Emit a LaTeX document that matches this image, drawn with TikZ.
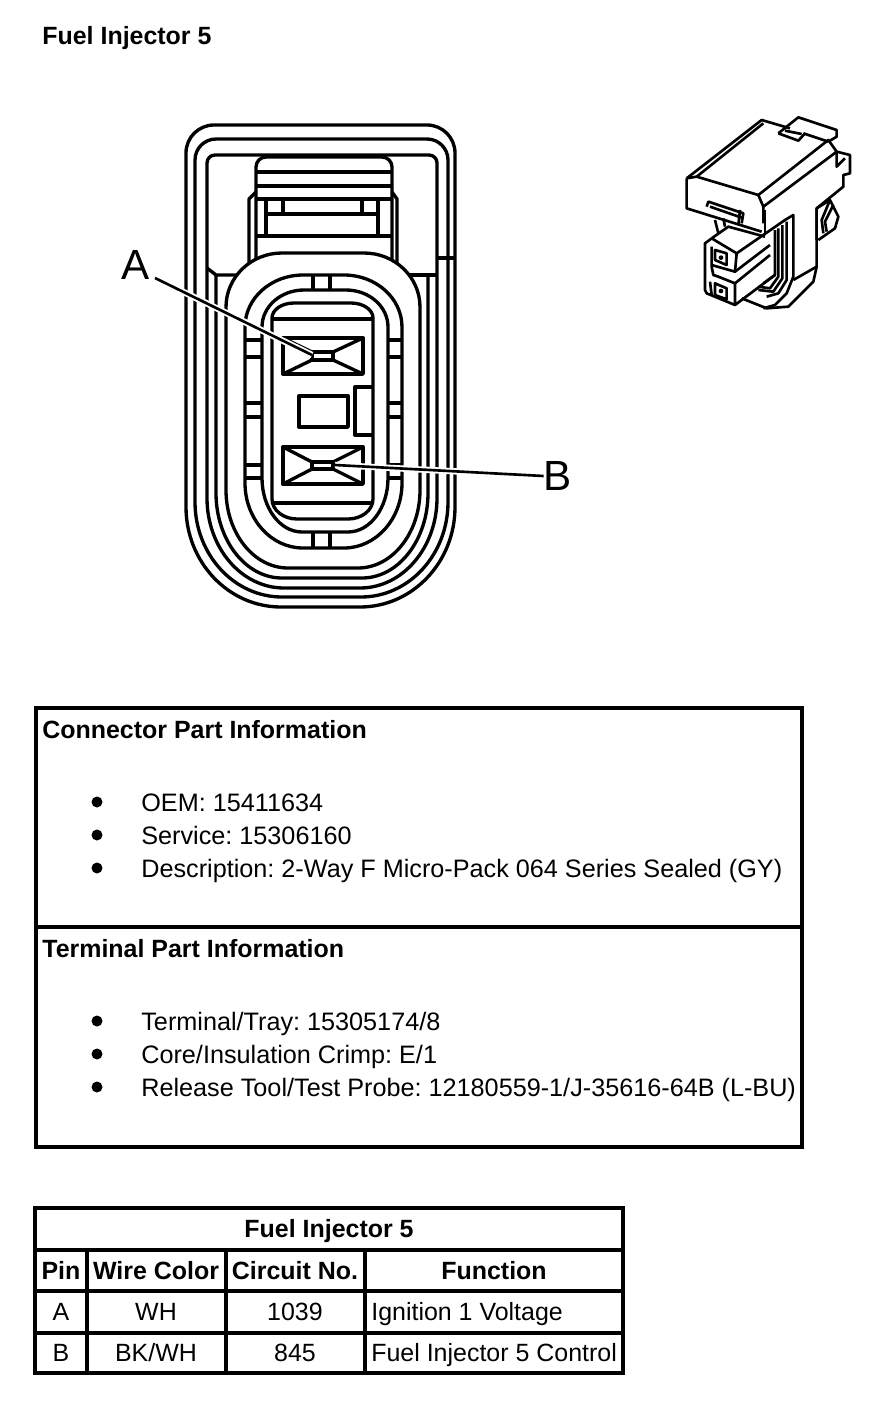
\documentclass[tikz,border=0pt]{standalone}
\usepackage{fontspec}
\setmainfont{Liberation Sans}
\frenchspacing
\newcommand{\contour}[9][]{\draw [#1] (#2,{-#4-#7}) arc (180:90:#6 and #7) -- ({#3-#6},-#4) arc (90:0:#6 and #7) -- (#3,{-#5+#9}) arc (0:-90:#8 and #9) -- ({#2+#8},-#5) arc (-90:-180:#8 and #9) -- cycle;}
\begin{document}
\begin{tikzpicture}[x=0.2mm,y=0.2mm,
	wire/.style={black,line width=1.9pt,line join=round},
	iso/.style={black,line width=1.5pt,line join=round},
	frame/.style={black,line width=1.9pt},
	every node/.style={inner sep=0pt,font=\fontsize{14.2}{17}\selectfont},
	head/.style={font=\fontsize{14.2}{17}\bfseries\selectfont},
	cell/.style={anchor=base},
	leftcell/.style={anchor=base west},
	infotext/.style={anchor=base west,font=\fontsize{14.35}{17}\selectfont},
	pinlabel/.style={font=\fontsize{24}{28}\selectfont}]
	\useasboundingbox (0,0) rectangle (880,-1406);
	\node [head,leftcell] (title) at (42,-44) {Fuel Injector 5};
	\begin{scope}[wire]
		\contour[wire]{186}{455}{125}{607}{28}{28}{95}{100}
		\contour[wire]{195}{448}{139}{597}{21}{21}{87}{95}
		\contour[wire]{207}{437}{155}{588}{8}{8}{77}{90}
		\draw (437,-258) -- (454,-258);
		\draw (249,-273) -- (249,-199) -- (256,-192);
		\draw (397,-273) -- (397,-199) -- (392,-192);
		\draw (256,-270) -- (256,-167) arc (180:90:10) -- (382,-157) arc (90:0:10) -- (392,-270);
		\draw (256,-172) -- (392,-172);
		\draw (256,-186) -- (392,-186);
		\draw (256,-199) -- (392,-199);
		\draw (266,-214) -- (378,-214);
		\draw (256,-236) -- (392,-236);
		\draw [line width=2.4pt] (266,-199) -- (266,-236);
		\draw [line width=2.4pt] (378,-199) -- (378,-236);
		\draw (283,-199) -- (283,-214);
		\draw (362,-199) -- (362,-214);
		\draw (207,-268) -- (216,-275) -- (245,-275);
		\draw (398,-275) -- (437,-275);
		\draw (216,-275) -- (216,-493) arc (180:270:66 and 85) -- (362,-578) arc (-90:0:66 and 85) -- (428,-275);
		\contour[wire,fill=white]{226}{420}{253}{568}{56}{54}{62}{78}
		\contour[wire]{245}{402}{275}{548}{58}{52}{58}{65}
		\contour[wire]{262}{388}{290}{532}{42}{37}{40}{54}
		\contour[wire]{272}{373}{303}{519}{22}{15}{25}{20}
		\draw (272,-319) -- (373,-319);
		\draw (272,-503) -- (373,-503);
		\draw (313,-275) -- (313,-290);
		\draw (330,-275) -- (330,-290);
		\draw (313,-532) -- (313,-548);
		\draw (330,-532) -- (330,-548);
		\foreach \taby in {340,357,403,417,465,478} {
			\draw (245,-\taby) -- (262,-\taby);
			\draw (388,-\taby) -- (402,-\taby);
		}
		\draw (283,-338) rectangle (363,-374);
		\draw (312,-352) rectangle (333,-360);
		\draw (283,-338) -- (312,-352);
		\draw (363,-338) -- (333,-352);
		\draw (283,-374) -- (312,-360);
		\draw (363,-374) -- (333,-360);
		\draw (283,-447) rectangle (363,-484);
		\draw (312,-462) rectangle (333,-469);
		\draw (283,-447) -- (312,-462);
		\draw (363,-447) -- (333,-462);
		\draw (283,-484) -- (312,-469);
		\draw (363,-484) -- (333,-469);
		\draw (299,-396) rectangle (348,-427);
		\draw (373,-387) -- (355,-387) -- (355,-435) -- (373,-435);
	\end{scope}
	\node [pinlabel] (pinA) at (136,-265) {A};
	\node [pinlabel] (pinB) at (558,-476) {B};
	\coordinate (leadA) at (155,-278);
	\coordinate (termA) at (312,-355);
	\coordinate (termB) at (335,-465);
	\draw [white,line width=3.6pt] (leadA) -- (termA);
	\draw [white,line width=3.6pt] (pinB.west) -- (termB);
	\draw [wire,line width=1.5pt] (leadA) -- (termA);
	\draw [wire,line width=1.5pt] (pinB.west) -- (termB);
	\begin{scope}[shift={(670,-105)},scale=1/3,iso]
		\draw (50,-220) -- (50,-310) -- (275,-380);
		\draw (50,-220) -- (275,-45) -- (360,-70);
		\draw (80,-215) -- (280,-55);
		\draw (50,-220) -- (80,-215) -- (265,-270) -- (280,-305) -- (280,-355);
		\draw (400,-85) -- (475,-110);
		\draw (265,-270) -- (475,-105) -- (500,-140) -- (280,-305);
		\draw (325,-85) -- (385,-37) -- (500,-75) -- (500,-95) -- (475,-110);
		\draw (325,-85) -- (385,-107) -- (405,-85);
		\draw (345,-77) -- (395,-87);
		\draw (500,-140) -- (500,-185) -- (525,-160);
		\draw (500,-140) -- (540,-150) -- (540,-205) -- (520,-210) -- (520,-245) -- (440,-310) -- (440,-485) -- (430,-530) -- (355,-605) -- (290,-610) -- (215,-580);
		\draw (440,-405) -- (440,-310) -- (480,-285) -- (505,-335) -- (495,-370) -- (445,-405);
		\draw (480,-285) -- (455,-345) -- (460,-385);
		\draw (490,-300) -- (465,-350) -- (470,-380);
		\draw (110,-305) -- (115,-290) -- (220,-325) -- (215,-355);
		\draw (120,-305) -- (215,-338);
		\draw (135,-345) -- (145,-385);
		\draw (160,-340) -- (165,-365);
		\draw (205,-360) -- (210,-315);
		\draw (285,-315) -- (285,-385);
		\draw (125,-400) -- (105,-415) -- (105,-555) -- (110,-565) -- (195,-600);
		\draw (125,-400) -- (175,-365) -- (285,-395);
		\draw (125,-400) -- (200,-445) -- (195,-500) -- (125,-480);
		\draw (200,-445) -- (345,-345) -- (370,-330) -- (370,-515) -- (350,-565) -- (315,-600) -- (280,-610);
		\draw (195,-500) -- (300,-420);
		\draw (125,-425) -- (125,-485) -- (130,-510) -- (145,-515) -- (195,-535) -- (195,-600) -- (315,-510);
		\draw (195,-535) -- (300,-450);
		\draw (120,-530) -- (125,-570);
		\draw (135,-435) -- (170,-445) -- (170,-480) -- (135,-465) -- cycle;
		\fill (153,-458) circle (7);
		\draw (135,-535) -- (170,-550) -- (170,-583) -- (135,-570) -- cycle;
		\fill (153,-558) circle (7);
		\draw (315,-375) -- (315,-510) -- (280,-535);
		\draw (325,-370) -- (325,-515) -- (300,-550) -- (265,-545);
		\draw (337,-360) -- (337,-520) -- (310,-560) -- (265,-555);
		\draw (350,-350) -- (350,-525) -- (325,-565) -- (290,-575);
		\draw (440,-485) -- (370,-525);
	\end{scope}
	\draw [frame] (36,-708) rectangle (802,-1147);
	\draw [frame] (36,-927) -- (802,-927);
	\node [head,leftcell] (connectorinfo) at (42,-738) {Connector Part Information};
	\node [infotext] (oem) at (141,-811) {OEM: 15411634};
	\node [infotext] (service) at (141,-844) {Service: 15306160};
	\node [infotext] (descr) at (141,-877) {Description: 2-Way F Micro-Pack 064 Series Sealed (GY)};
	\node [head,leftcell] (terminalinfo) at (42,-957) {Terminal Part Information};
	\node [infotext] (tray) at (141,-1030) {Terminal/Tray: 15305174/8};
	\node [infotext] (crimp) at (141,-1063) {Core/Insulation Crimp: E/1};
	\node [infotext] (tool) at (141,-1096) {Release Tool/Test Probe: 12180559-1/J-35616-64B (L-BU)};
	\foreach \bullety in {802,835,868,1021,1054,1087}
		\fill (97,-\bullety) circle (5.5);
	\draw [frame] (35,-1208) rectangle (623,-1373);
	\draw [frame] (35,-1250) -- (623,-1250);
	\draw [frame] (35,-1291) -- (623,-1291);
	\draw [frame] (35,-1333) -- (623,-1333);
	\draw [frame] (87,-1250) -- (87,-1373);
	\draw [frame] (226,-1250) -- (226,-1373);
	\draw [frame] (365,-1250) -- (365,-1373);
	\node [head,cell] (tabletitle) at (329,-1237) {Fuel Injector 5};
	\node [head,cell] (pinhead) at (61,-1279) {Pin};
	\node [head,cell] (wirehead) at (156,-1279) {Wire Color};
	\node [head,cell] (circuithead) at (295,-1279) {Circuit No.};
	\node [head,cell] (functionhead) at (494,-1279) {Function};
	\node [cell] (pina) at (61,-1320) {A};
	\node [cell] (wirea) at (156,-1320) {WH};
	\node [cell] (circuita) at (295,-1320) {1039};
	\node [leftcell] (functiona) at (371,-1320) {Ignition 1 Voltage};
	\node [cell] (pinb) at (61,-1361) {B};
	\node [cell] (wireb) at (156,-1361) {BK/WH};
	\node [cell] (circuitb) at (295,-1361) {845};
	\node [leftcell] (functionb) at (371,-1361) {Fuel Injector 5 Control};
\end{tikzpicture}
\end{document}
